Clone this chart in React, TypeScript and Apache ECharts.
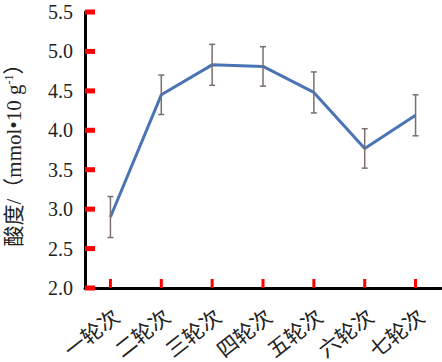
import React, { useEffect, useRef } from "react";
import * as echarts from "echarts";

const categories = ["一轮次", "二轮次", "三轮次", "四轮次", "五轮次", "六轮次", "七轮次"];
const means = [2.9, 4.45, 4.83, 4.81, 4.48, 3.77, 4.19];
const errors = [0.26, 0.25, 0.26, 0.25, 0.26, 0.25, 0.26];
const yTicks = [2.0, 2.5, 3.0, 3.5, 4.0, 4.5, 5.0, 5.5];
const yMin = 2.0;
const yMax = 5.5;
const yInterval = 0.5;
const yName = "酸度/（mmol•10 g{sup|-1}）";

const serif = "'Liberation Serif', 'Noto Sans CJK SC', serif";
const tickColor = "#ff0000";

export default function App() {
  const ref = useRef<HTMLDivElement>(null);
  useEffect(() => {
    if (!ref.current) return;
    const chart = echarts.init(ref.current, null, { renderer: "svg" });
    const errData = categories.map((_, i) => [i, means[i] - errors[i], means[i] + errors[i]]);
    chart.setOption({
      animation: false,
      backgroundColor: "#ffffff",
      grid: { left: 85, right: 1, top: 12, bottom: 74, containLabel: false, outerBoundsMode: "none" },
      xAxis: {
        type: "category",
        data: categories,
        boundaryGap: true,
        axisLine: { show: true, onZero: false, lineStyle: { color: "#000000", width: 3 } },
        axisTick: { show: false },
        axisLabel: {
          rotate: 38,
          align: "right",
          verticalAlign: "top",
          margin: 18,
          fontSize: 21,
          color: "#222",
          fontFamily: serif,
          interval: 0,
        },
        splitLine: { show: false },
      },
      yAxis: {
        type: "value",
        min: yMin,
        max: yMax,
        interval: yInterval,
        axisLine: { show: true, onZero: false, lineStyle: { color: "#000000", width: 3 } },
        axisTick: { show: false },
        axisLabel: {
          margin: 12,
          fontSize: 20,
          color: "#222",
          fontFamily: serif,
          formatter: (v: number) => v.toFixed(1),
        },
        splitLine: { show: false },
        name: yName,
        nameLocation: "middle",
        nameGap: 61,
        nameTextStyle: {
          fontSize: 21,
          color: "#222",
          fontFamily: serif,
          rich: {
            sup: { fontSize: 12, verticalAlign: "top", color: "#222", fontFamily: serif },
          },
        },
      },
      series: [
        {
          type: "line",
          data: means,
          symbol: "none",
          lineStyle: { color: "#4a74b4", width: 3 },
          z: 2,
        },
        {
          type: "custom",
          data: errData,
          z: 3,
          silent: true,
          renderItem: (params: any, api: any) => {
            const x = api.value(0);
            const lo = api.coord([x, api.value(1)]);
            const hi = api.coord([x, api.value(2)]);
            const cap = 3;
            const style = { stroke: "#7a6e6e", lineWidth: 1.5 };
            return {
              type: "group",
              children: [
                { type: "line", shape: { x1: hi[0], y1: hi[1], x2: lo[0], y2: lo[1] }, style },
                { type: "line", shape: { x1: hi[0] - cap, y1: hi[1], x2: hi[0] + cap, y2: hi[1] }, style },
                { type: "line", shape: { x1: lo[0] - cap, y1: lo[1], x2: lo[0] + cap, y2: lo[1] }, style },
              ],
            };
          },
        },
      ],
    });

    const rect = (chart as any).getModel().getComponent("grid", 0).coordinateSystem.getRect();
    const leftX = rect.x;
    const bottomY = chart.convertToPixel({ yAxisIndex: 0 }, yMin) as number;
    const graphics: any[] = [];
    yTicks.forEach((v) => {
      const y = chart.convertToPixel({ yAxisIndex: 0 }, v) as number;
      graphics.push({
        type: "rect",
        z: 100,
        silent: true,
        shape: { x: leftX, y: y - 2.5, width: 10, height: 5 },
        style: { fill: tickColor },
      });
    });
    categories.forEach((_, i) => {
      const x = chart.convertToPixel({ xAxisIndex: 0 }, i) as number;
      graphics.push({
        type: "rect",
        z: 100,
        silent: true,
        shape: { x: x - 1.5, y: bottomY - 9, width: 3, height: 9 },
        style: { fill: tickColor },
      });
    });
    chart.setOption({ graphic: graphics });
    return () => chart.dispose();
  }, []);
  return (
    <div
      ref={ref}
      style={{ position: "fixed", left: 0, top: 0, width: 442, height: 362, background: "#fff" }}
    />
  );
}
